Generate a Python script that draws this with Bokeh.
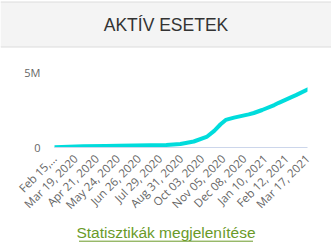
import pandas as pd
from bokeh.plotting import figure
from bokeh.models import Range1d, FixedTicker, Span, BoxAnnotation
from bokeh.layouts import column
from bokeh.embed import file_html
from bokeh.resources import INLINE
from bokeh.core.properties import value
import math

# ---------------- data ----------------
title_text = "AKTÍV ESETEK"
link_text = "Statisztikák megjelenítése"

dates = ["2020-02-15", "2020-03-31", "2020-05-05", "2020-05-25", "2020-06-19",
         "2020-07-14", "2020-08-08", "2020-08-30", "2020-09-20", "2020-10-11",
         "2020-10-22", "2020-11-01", "2020-11-09", "2020-11-22", "2020-12-15",
         "2020-12-23", "2021-01-05", "2021-01-24", "2021-01-31", "2021-02-19",
         "2021-02-27", "2021-03-17"]
active = [20000, 80000, 100000, 120000, 130000,
          150000, 170000, 230000, 400000, 730000,
          1110000, 1550000, 1840000, 1990000, 2210000,
          2300000, 2500000, 2830000, 2980000, 3340000,
          3490000, 3870000]

tick_dates = ["2020-02-15", "2020-03-19", "2020-04-21", "2020-05-24", "2020-06-26",
              "2020-07-29", "2020-08-31", "2020-10-03", "2020-11-05", "2020-12-08",
              "2021-01-10", "2021-02-12", "2021-03-17"]
tick_labels = ["Feb 15,…", "Mar 19, 2020", "Apr 21, 2020", "May 24, 2020", "Jun 26, 2020",
               "Jul 29, 2020", "Aug 31, 2020", "Oct 03, 2020", "Nov 05, 2020", "Dec 08, 2020",
               "Jan 10, 2021", "Feb 12, 2021", "Mar 17, 2021"]

y_ticks = [0, 5000000]
y_tick_labels = ["0", "5M"]

start = pd.Timestamp(dates[0])
xs = [(pd.Timestamp(d) - start).days for d in dates]
tick_x = [(pd.Timestamp(d) - start).days for d in tick_dates]

W = 331
LABEL_FONT = "Open Sans"

# ---------------- header ----------------
h = figure(width=W, height=48, x_range=Range1d(0, W), y_range=Range1d(48, 0),
           toolbar_location=None, output_backend="svg", min_border=0,
           x_axis_location=None, y_axis_location=None, outline_line_color=None,
           frame_align=False)
h.grid.visible = False
h.add_layout(BoxAnnotation(top=1.5, bottom=46.5, fill_color="#f4f4f4", fill_alpha=1,
                           line_color=None, level="underlay"))
h.add_layout(Span(location=1.5, dimension="width", line_color="#dcdcdc", line_width=1))
h.add_layout(Span(location=46.5, dimension="width", line_color="#dcdcdc", line_width=1))
h.text(x=[W / 2], y=[24.5], text=[title_text], text_align="center",
       text_baseline="middle", text_font=value("Liberation Sans"),
       text_font_size="17.5px", text_color="#333333")

# ---------------- main chart ----------------
p = figure(width=W, height=172, x_range=Range1d(tick_x[0], tick_x[-1]),
           y_range=Range1d(y_ticks[0], y_ticks[-1]),
           toolbar_location=None, output_backend="svg",
           min_border_left=54, min_border_right=24, min_border_top=24,
           min_border_bottom=72, outline_line_color=None, frame_align=False)

p.line(xs, active, line_color="#00dcdc", line_width=4, line_join="round",
       line_cap="round")

p.xgrid.visible = False
p.ygrid.grid_line_color = "#e6e6e6"
p.ygrid.ticker = FixedTicker(ticks=y_ticks)

p.yaxis.ticker = FixedTicker(ticks=y_ticks)
p.yaxis.major_label_overrides = {float(t): l for t, l in zip(y_ticks, y_tick_labels)}
p.yaxis.axis_line_color = None
p.yaxis.major_tick_line_color = None
p.yaxis.minor_tick_line_color = None
p.yaxis.major_tick_out = 0
p.yaxis.major_label_standoff = 14
p.yaxis.major_label_text_font = LABEL_FONT
p.yaxis.major_label_text_font_size = "11px"
p.yaxis.major_label_text_color = "#666666"

p.xaxis.ticker = FixedTicker(ticks=tick_x)
p.xaxis.major_label_overrides = {float(t): l for t, l in zip(tick_x, tick_labels)}
p.xaxis.axis_line_color = "#ccd6eb"
p.xaxis.major_tick_line_color = None
p.xaxis.minor_tick_line_color = None
p.xaxis.major_tick_out = 0
p.xaxis.major_label_standoff = 9
p.xaxis.major_label_orientation = math.pi / 4
p.xaxis.major_label_text_font = LABEL_FONT
p.xaxis.major_label_text_font_size = "11.5px"
p.xaxis.major_label_text_color = "#666666"

# ---------------- link ----------------
l = figure(width=W, height=27, x_range=Range1d(0, W), y_range=Range1d(27, 0),
           toolbar_location=None, output_backend="svg", min_border=0,
           x_axis_location=None, y_axis_location=None, outline_line_color=None,
           frame_align=False)
l.grid.visible = False
l.text(x=[W / 2], y=[12.2], text=[link_text], text_align="center",
       text_baseline="middle", text_font=value("Liberation Sans"),
       text_font_size="15.5px", text_color="#6a9a28")
half = 87
l.segment(x0=[W / 2 - half], y0=[20.7], x1=[W / 2 + half], y1=[20.7],
          line_color="#6a9a28", line_width=1)

layout = column(h, p, l, spacing=0)
open("out.html", "w").write(file_html(layout, INLINE))
